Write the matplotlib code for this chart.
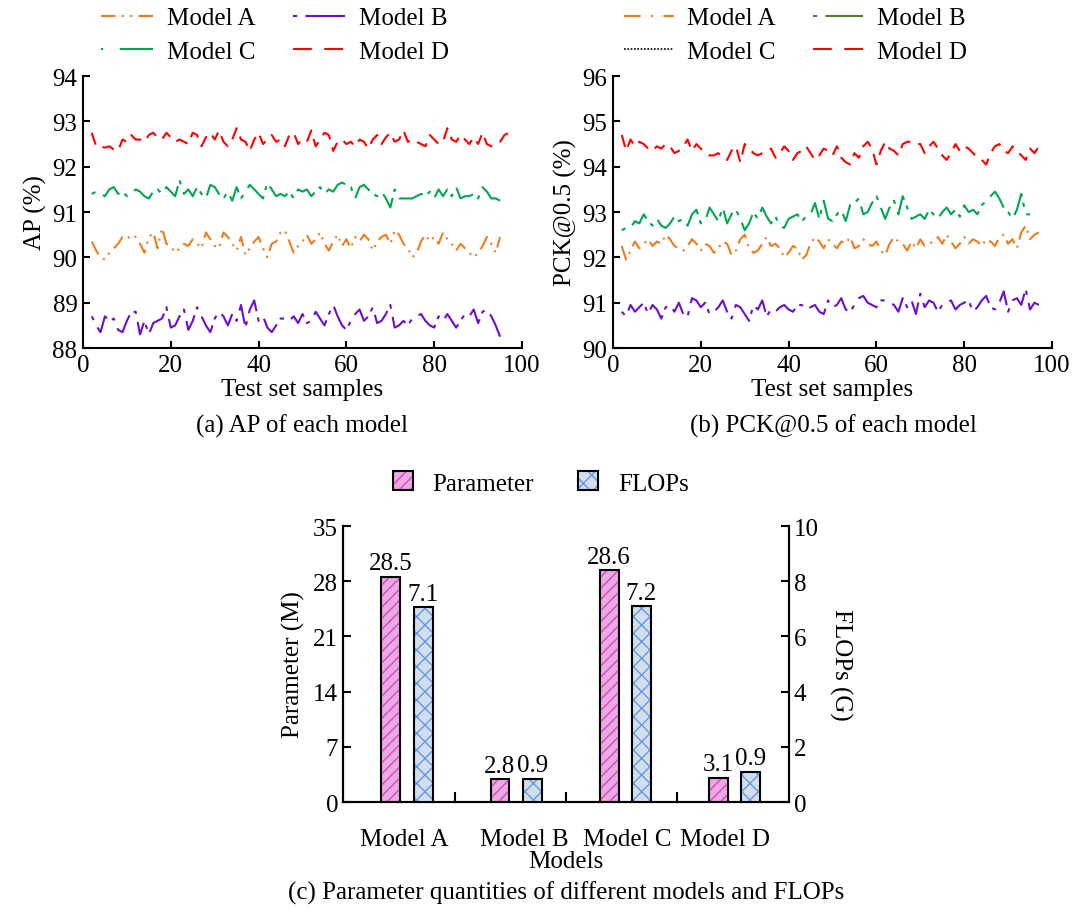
import numpy as np
import matplotlib.pyplot as plt
from matplotlib.lines import Line2D
from matplotlib.patches import Patch

plt.rcParams['font.family'] = 'serif'
plt.rcParams['font.serif'] = ['Liberation Serif', 'DejaVu Serif']
plt.rcParams['font.size'] = 18
plt.rcParams['hatch.linewidth'] = 1.0

# ===== data =====
# (a) AP (%)
ap_a = [90.35, 90.15, 90.0, 89.95, 90.1, 90.2, 90.3, 90.45, 90.4, 90.5, 90.45, 90.3, 90.1, 90.45, 90.55, 90.2,
        90.65, 90.3, 90.25, 90.1, 90.2, 90.3, 90.25, 90.4, 90.3, 90.2, 90.55, 90.4, 90.25, 90.2, 90.55, 90.45,
        90.3, 90.15, 90.45, 90.05, 90.2, 90.35, 90.45, 90.2, 90.0, 90.3, 90.35, 90.55, 90.6, 90.35, 90.1, 90.25,
        90.35, 90.5, 90.3, 90.4, 90.55, 90.3, 90.15, 90.35, 90.5, 90.25, 90.4, 90.2, 90.45, 90.35, 90.5, 90.4,
        90.15, 90.35, 90.45, 90.5, 90.3, 90.6, 90.5, 90.3, 90.2, 90.0, 90.1, 90.35, 90.5, 90.35, 90.45, 90.3,
        90.55, 90.4, 90.3, 90.15, 90.3, 90.2, 90.1, 90.0, 90.1, 90.25, 90.45, 90.3, 90.1, 90.45]
ap_b = [88.7, 88.5, 88.35, 88.7, 88.6, 88.65, 88.4, 88.35, 88.6, 88.8, 88.8, 88.3, 88.6, 88.3, 88.55, 88.6,
        88.65, 88.9, 88.45, 88.5, 88.7, 88.85, 88.4, 88.6, 88.9, 88.7, 88.5, 88.35, 88.65, 88.8, 88.7, 88.5,
        88.75, 88.6, 88.95, 88.45, 88.85, 89.05, 88.6, 88.7, 88.45, 88.35, 88.5, 88.65, 88.65, 88.6, 88.7, 88.55,
        88.75, 88.55, 88.6, 88.8, 88.65, 88.5, 88.75, 88.95, 88.7, 88.5, 88.4, 88.6, 88.75, 88.85, 88.6, 88.7,
        88.9, 88.55, 88.6, 88.75, 88.95, 88.45, 88.5, 88.6, 88.5, 88.65, 88.7, 88.75, 88.6, 88.5, 88.45, 88.7,
        88.6, 88.75, 88.6, 88.45, 88.6, 88.75, 88.7, 88.85, 88.55, 88.8, 88.85, 88.7, 88.5, 88.25]
ap_c = [91.4, 91.45, 91.4, 91.35, 91.5, 91.55, 91.4, 91.45, 91.35, 91.4, 91.5, 91.45, 91.35, 91.3, 91.45, 91.5,
        91.4, 91.55, 91.45, 91.35, 91.7, 91.4, 91.5, 91.35, 91.55, 91.4, 91.3, 91.6, 91.55, 91.4, 91.3, 91.45,
        91.25, 91.55, 91.3, 91.45, 91.6, 91.5, 91.4, 91.3, 91.65, 91.5, 91.35, 91.4, 91.35, 91.45, 91.3, 91.5,
        91.45, 91.5, 91.35, 91.45, 91.55, 91.4, 91.5, 91.45, 91.6, 91.65, 91.6, 91.55, 91.3, 91.55, 91.6, 91.5,
        91.4, 91.35, 91.45, 91.3, 91.1, 91.5, 91.3, 91.3, 91.3, 91.3, 91.35, 91.4, 91.35, 91.45, 91.3, 91.5,
        91.35, 91.5, 91.35, 91.55, 91.3, 91.35, 91.35, 91.4, 91.3, 91.55, 91.45, 91.3, 91.3, 91.25]
ap_d = [92.75, 92.45, 92.45, 92.42, 92.45, 92.38, 92.35, 92.6, 92.55, 92.7, 92.6, 92.6, 92.55, 92.7, 92.75, 92.65,
        92.6, 92.75, 92.65, 92.55, 92.6, 92.55, 92.5, 92.75, 92.7, 92.45, 92.65, 92.75, 92.6, 92.8, 92.55, 92.45,
        92.6, 92.85, 92.6, 92.55, 92.35, 92.6, 92.75, 92.5, 92.6, 92.7, 92.55, 92.6, 92.45, 92.7, 92.75, 92.5,
        92.6, 92.55, 92.8, 92.45, 92.6, 92.75, 92.7, 92.35, 92.55, 92.6, 92.5, 92.55, 92.45, 92.6, 92.55, 92.4,
        92.6, 92.7, 92.5, 92.65, 92.75, 92.55, 92.6, 92.8, 92.55, 92.6, 92.55, 92.5, 92.45, 92.7, 92.6, 92.5,
        92.55, 92.85, 92.6, 92.55, 92.7, 92.6, 92.5, 92.65, 92.5, 92.75, 92.5, 92.45, 92.5, 92.55, 92.7, 92.75]

# (b) PCK@0.5 (%)
pck_a = [92.25, 91.95, 92.15, 92.35, 92.2, 92.3, 92.4, 92.25, 92.35, 92.3, 92.5, 92.4, 92.25, 92.2, 92.15, 92.25,
         92.4, 92.3, 92.15, 92.3, 92.25, 92.1, 92.2, 92.35, 92.3, 92.05, 92.15, 92.4, 92.5, 92.2, 92.1, 92.15,
         92.3, 92.45, 92.25, 92.3, 92.2, 92.0, 92.1, 92.25, 92.2, 91.95, 92.05, 92.3, 92.45, 92.35, 92.2, 92.4,
         92.3, 92.2, 92.35, 92.3, 92.45, 92.2, 92.25, 92.4, 92.3, 92.25, 92.35, 92.15, 92.05, 92.3, 92.45, 92.35,
         92.3, 92.15, 92.35, 92.2, 92.4, 92.25, 92.3, 92.35, 92.45, 92.3, 92.5, 92.35, 92.2, 92.3, 92.45, 92.3,
         92.4, 92.35, 92.25, 92.4, 92.35, 92.25, 92.45, 92.5, 92.3, 92.4, 92.2, 92.55, 92.7, 92.4, 92.5, 92.55]
pck_b = [90.8, 90.7, 90.95, 90.8, 90.9, 91.0, 90.75, 90.95, 90.85, 90.65, 90.9, 90.95, 90.8, 91.0, 90.75, 90.7,
         91.1, 91.05, 90.9, 91.0, 90.75, 90.8, 90.9, 91.05, 90.8, 90.65, 90.95, 90.9, 90.75, 90.6, 90.95, 90.85,
         91.05, 90.7, 90.85, 90.8, 90.9, 90.95, 90.85, 90.8, 90.95, 90.95, 90.85, 90.9, 90.95, 90.8, 90.75, 91.05,
         90.9, 90.95, 91.1, 90.85, 90.8, 90.95, 91.1, 91.15, 91.0, 90.95, 90.9, 91.05, 91.05, 91.0, 90.95, 90.8,
         91.1, 90.9, 91.05, 90.75, 91.2, 90.9, 91.05, 91.0, 90.8, 90.95, 91.0, 91.05, 90.85, 90.95, 91.0, 91.05,
         90.8, 90.9, 91.05, 91.15, 90.9, 90.85, 91.0, 91.25, 90.8, 91.05, 91.1, 90.95, 91.3, 90.85, 91.0, 90.95]
pck_c = [92.6, 92.65, 92.65, 92.8, 92.75, 92.95, 92.8, 92.7, 92.85, 92.7, 92.65, 92.75, 92.9, 92.8, 92.85, 92.7,
         92.95, 93.05, 92.75, 92.8, 93.1, 92.95, 92.8, 93.1, 92.75, 92.95, 93.05, 92.85, 92.6, 92.75, 93.0, 92.85,
         93.1, 92.9, 92.75, 92.9, 92.7, 92.65, 92.85, 92.9, 92.95, 92.8, 92.9, 92.95, 93.2, 92.85, 93.25, 92.85,
         92.8, 92.95, 93.05, 92.8, 93.15, 93.2, 93.3, 92.95, 93.0, 93.2, 93.35, 93.1, 92.85, 93.1, 93.25, 92.95,
         93.35, 93.1, 92.85, 92.9, 92.95, 92.85, 93.05, 92.95, 92.85, 93.0, 93.1, 92.95, 93.05, 92.9, 93.15, 93.0,
         93.05, 92.95, 93.15, 93.25, 93.35, 93.45, 93.3, 93.1, 93.0, 92.85, 93.05, 93.4, 92.95, 92.95]
pck_d = [94.7, 94.35, 94.6, 94.45, 94.55, 94.5, 94.4, 94.35, 94.45, 94.4, 94.5, 94.45, 94.3, 94.35, 94.45, 94.6,
         94.35, 94.5, 94.4, 94.3, 94.25, 94.25, 94.3, 94.2, 94.15, 94.35, 94.45, 94.1, 94.5, 94.4, 94.3, 94.25,
         94.3, 94.35, 94.4, 94.2, 94.3, 94.45, 94.35, 94.15, 94.3, 94.35, 94.45, 94.3, 94.15, 94.25, 94.4, 94.35,
         94.25, 94.45, 94.2, 94.1, 94.05, 94.3, 94.2, 94.45, 94.55, 94.4, 94.05, 94.35, 94.55, 94.4, 94.35, 94.25,
         94.5, 94.55, 94.55, 94.5, 94.5, 94.3, 94.45, 94.55, 94.4, 94.25, 94.15, 94.3, 94.5, 94.35, 94.45, 94.4,
         94.3, 94.2, 94.15, 94.05, 94.3, 94.45, 94.5, 94.35, 94.3, 94.45, 94.35, 94.25, 94.15, 94.4, 94.3, 94.45]

# (c) parameters / FLOPs
models = ['Model A', 'Model B', 'Model C', 'Model D']
param_vals = [28.6, 2.9, 29.4, 3.1]
flops_vals = [7.05, 0.85, 7.1, 1.1]
param_text = ['28.5', '2.8', '28.6', '3.1']
flops_text = ['7.1', '0.9', '7.2', '0.9']

# ===== styles =====
c_orange = '#EE7C1E'
c_purple = '#6A0FD0'
c_green = '#00A651'
c_red = '#FF0000'
ls_a_left = (0, (7, 3, 1, 3, 1, 3))
ls_a_right = (0, (7, 3, 1, 3))
ls_long = (0, (2, 4, 12, 3))
ls_dash = (0, (6, 4))
lw = 1.5
pink_hatch = (0.88, 0.25, 0.82, 1.0)
blue_hatch = (0.38, 0.6, 0.9, 1.0)

fig = plt.figure(figsize=(10.79, 9.12), dpi=100)
ax1 = fig.add_axes([0.0769, 0.6173, 0.4069, 0.2982])
ax2 = fig.add_axes([0.5681, 0.6173, 0.4069, 0.2982])
ax3 = fig.add_axes([0.3179, 0.1195, 0.4133, 0.3026])


def style_line_ax(ax):
    ax.spines['top'].set_visible(False)
    ax.spines['right'].set_visible(False)
    for s in ['left', 'bottom']:
        ax.spines[s].set_linewidth(1.5)
    ax.tick_params(direction='in', length=5, width=1.5, labelsize=18, pad=4)
    ax.set_xlim(0, 100)
    ax.set_xticks(range(0, 101, 20))
    ax.set_xlabel('Test set samples', fontsize=18, labelpad=2)


# (a)
ax1.plot(np.arange(2, 2 + len(ap_d)), ap_d, color=c_red, ls=ls_dash, lw=lw)
ax1.plot(np.arange(2, 2 + len(ap_c)), ap_c, color=c_green, ls=ls_long, lw=lw)
ax1.plot(np.arange(2, 2 + len(ap_a)), ap_a, color=c_orange, ls=ls_a_left, lw=lw)
ax1.plot(np.arange(2, 2 + len(ap_b)), ap_b, color=c_purple, ls=ls_long, lw=lw)
style_line_ax(ax1)
ax1.set_ylim(88, 94)
ax1.set_yticks(range(88, 95))
ax1.set_ylabel('AP (%)', fontsize=18, labelpad=4)

# (b)
ax2.plot(np.arange(2, 2 + len(pck_d)), pck_d, color=c_red, ls=ls_dash, lw=lw)
ax2.plot(np.arange(2, 2 + len(pck_c)), pck_c, color=c_green, ls=ls_long, lw=lw)
ax2.plot(np.arange(2, 2 + len(pck_a)), pck_a, color=c_orange, ls=ls_a_right, lw=lw)
ax2.plot(np.arange(2, 2 + len(pck_b)), pck_b, color=c_purple, ls=ls_long, lw=lw)
style_line_ax(ax2)
ax2.set_ylim(90, 96)
ax2.set_yticks(range(90, 97))
ax2.set_ylabel('PCK@0.5 (%)', fontsize=18, labelpad=4)

# legends of the line charts (order A, C, B, D so rows read A B / C D)
h1 = [Line2D([], [], color=c_orange, ls=ls_a_left, lw=lw),
      Line2D([], [], color=c_green, ls=(0, (1, 8, 20, 3)), lw=lw),
      Line2D([], [], color=c_purple, ls=(0, (2, 4, 20, 3)), lw=lw),
      Line2D([], [], color=c_red, ls=(0, (9, 6)), lw=lw)]
fig.legend(h1, ['Model A', 'Model C', 'Model B', 'Model D'], ncol=2, loc='upper left',
           bbox_to_anchor=(0.0723, 1.016), frameon=False, fontsize=18, handlelength=2.1,
           handletextpad=0.55, columnspacing=1.5, labelspacing=0.45)
h2 = [Line2D([], [], color=c_orange, ls=(0, (8, 5, 1, 5)), lw=lw),
      Line2D([], [], color='black', ls=(0, (1, 1)), lw=1.2),
      Line2D([], [], color='#5A7A32', ls=(0, (2, 4, 20, 3)), lw=lw),
      Line2D([], [], color=c_red, ls=(0, (9, 6)), lw=lw)]
fig.legend(h2, ['Model A', 'Model C', 'Model B', 'Model D'], ncol=2, loc='upper left',
           bbox_to_anchor=(0.557, 1.016), frameon=False, fontsize=18, handlelength=2.0,
           handletextpad=0.55, columnspacing=1.5, labelspacing=0.45)

fig.text(0.28, 0.533, '(a) AP of each model', ha='center', va='center', fontsize=18)
fig.text(0.772, 0.533, '(b) PCK@0.5 of each model', ha='center', va='center', fontsize=18)

# (c)
pos = 0.575 + 0.978 * np.arange(len(models))
label_pos = [0.55, 1.63, 2.55, 3.43]
bw = 0.17
ax3b = ax3.twinx()
bars1 = ax3.bar(pos - 0.145, param_vals, width=bw, color='#E8AADF', edgecolor='black',
                hatch='///', linewidth=1.5, zorder=3)
bars2 = ax3b.bar(pos + 0.145, flops_vals, width=bw, color='#D3DEEC', edgecolor='black',
                 hatch='xx', linewidth=1.5, zorder=3)
for b in bars1:
    b._hatch_color = pink_hatch
for b in bars2:
    b._hatch_color = blue_hatch

for p, v, t in zip(pos - 0.145, param_vals, param_text):
    ax3.text(p, v + 0.3, t, ha='center', va='bottom', fontsize=18)
for p, v, t in zip(pos + 0.145, flops_vals, flops_text):
    ax3b.text(p, v + 0.08, t, ha='center', va='bottom', fontsize=18)

ax3.set_xlim(0, 4)
ax3.set_ylim(0, 35)
ax3.set_yticks(range(0, 36, 7))
ax3b.set_ylim(0, 10)
ax3b.set_yticks(range(0, 11, 2))
ax3.set_xticks([1, 2, 3])
ax3.set_xticklabels([])
ax3.set_xticks(label_pos, minor=True)
ax3.set_xticklabels(models, minor=True)
ax3.tick_params(axis='x', which='minor', length=0, pad=19, labelsize=18)
ax3.tick_params(axis='x', which='major', direction='in', length=7, width=1.5)
ax3.tick_params(axis='y', direction='in', length=6, width=1.5, labelsize=18)
ax3b.tick_params(axis='y', direction='in', length=6, width=1.5, labelsize=18)
for a in (ax3, ax3b):
    a.spines['top'].set_visible(False)
    for s in ['left', 'right', 'bottom']:
        a.spines[s].set_linewidth(1.5)
ax3.set_ylabel('Parameter (M)', fontsize=18, labelpad=6)
ax3b.set_ylabel('FLOPs (G)', fontsize=18, rotation=270, labelpad=24)
ax3.set_xlabel('Models', fontsize=18, labelpad=0)

hb = [Patch(facecolor='#E8AADF', edgecolor='black', hatch='///', linewidth=1.5),
      Patch(facecolor='#D3DEEC', edgecolor='black', hatch='xx', linewidth=1.5)]
leg = fig.legend(hb, ['Parameter', 'FLOPs'], ncol=2, loc='center', bbox_to_anchor=(0.501, 0.4693),
                 frameon=False, fontsize=18, handlelength=0.8, handleheight=0.8,
                 handletextpad=0.8, columnspacing=1.75)
for p, hc in zip(leg.get_patches(), [pink_hatch, blue_hatch]):
    p._hatch_color = hc

fig.text(0.525, 0.021, '(c) Parameter quantities of different models and FLOPs',
         ha='center', va='center', fontsize=18)

plt.savefig('out.png', dpi=100)
